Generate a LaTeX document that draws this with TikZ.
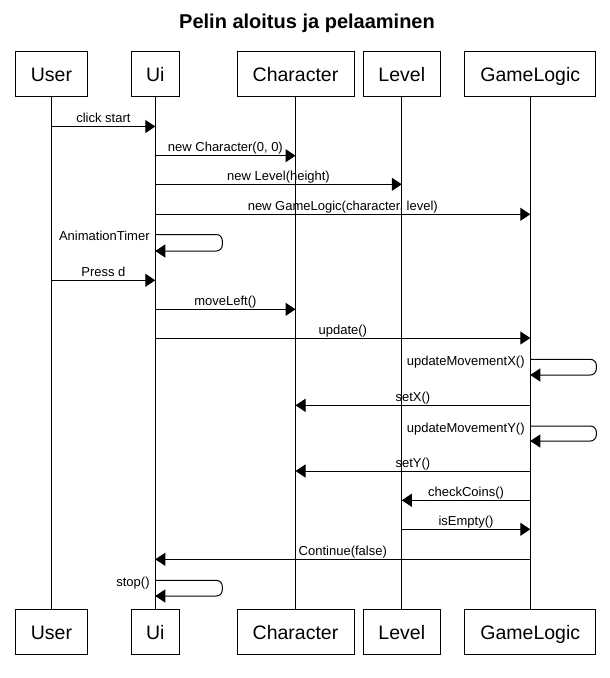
\documentclass[tikz,border=0pt]{standalone}
\usepackage{fontspec}
\setmainfont{Liberation Sans}
\usetikzlibrary{arrows.meta}
\tikzset{
  obj/.style={draw=black, line width=1pt, fill=white, minimum height=45pt, inner sep=0pt, text height=15pt, text depth=0pt, font=\fontsize{19.5}{22}\selectfont},
  life/.style={line width=1pt},
  msgline/.style={line width=1pt, -{Triangle[length=10pt,width=13pt]}},
  msglabel/.style={above, inner sep=1pt, text depth=2.5pt, font=\fontsize{13}{15}\selectfont},
  looplabel/.style={anchor=east, inner sep=1pt, xshift=-4.5pt, yshift=-2.5pt, text height=9.5pt, text depth=2.5pt, font=\fontsize{13}{15}\selectfont},
  titlestyle/.style={anchor=base, inner sep=0pt, font=\bfseries\fontsize{20}{24}\selectfont},
}
\newcommand{\seqmsg}[5]{\draw[msgline] (#1 |- 0,#3) -- node[msglabel] (#5) {#4} (#2 |- 0,#3);}
\newcommand{\seqloop}[7]{%
  \coordinate (#6a) at (#1 |- 0,#2);
  \coordinate (#6b) at (#1 |- 0,#4);
  \node[looplabel] (#6) at (#6a) {#7};
  \draw[msgline, rounded corners=6pt] (#6a) -- ++(#3,0) -- ++(0,#5) -- (#6b);}
\begin{document}
\begin{tikzpicture}[x=1pt, y=-1pt]
\useasboundingbox (0,0) rectangle (610,678);
\node[titlestyle] (title) at (307,28.3) {Pelin aloitus ja pelaaminen};
% top objects
\node[obj, minimum width=72pt]  (userT)  at (51.5,73.5)  {User};
\node[obj, minimum width=48pt]  (uiT)    at (155.3,73.5) {Ui};
\node[obj, minimum width=117pt] (charT)  at (295.5,73.5) {Character};
\node[obj, minimum width=77pt]  (levelT) at (401.8,73.5) {Level};
\node[obj, minimum width=131pt] (glT)    at (530.3,73.5) {GameLogic};
% bottom objects
\node[obj, minimum width=72pt]  (userB)  at (51.5,631.5)  {User};
\node[obj, minimum width=48pt]  (uiB)    at (155.3,631.5) {Ui};
\node[obj, minimum width=117pt] (charB)  at (295.5,631.5) {Character};
\node[obj, minimum width=77pt]  (levelB) at (401.8,631.5) {Level};
\node[obj, minimum width=131pt] (glB)    at (530.3,631.5) {GameLogic};
% lifelines
\draw[life] (userT) -- (userB);
\draw[life] (uiT) -- (uiB);
\draw[life] (charT) -- (charB);
\draw[life] (levelT) -- (levelB);
\draw[life] (glT) -- (glB);
% messages
\seqmsg{userT}{uiT}{126.5}{click start}{m1}
\seqmsg{uiT}{charT}{155.7}{new Character(0, 0)}{m2}
\seqmsg{uiT}{levelT}{184.3}{new Level(height)}{m3}
\seqmsg{uiT}{glT}{214.3}{new GameLogic(character, level)}{m4}
\seqloop{uiT}{234.5}{67}{251}{16.5}{mfive}{AnimationTimer}
\seqmsg{userT}{uiT}{280.3}{Press d}{m6}
\seqmsg{uiT}{charT}{309.3}{moveLeft()}{m7}
\seqmsg{uiT}{glT}{338}{update()}{m8}
\seqloop{glT}{359.3}{66}{375}{15.7}{mnine}{updateMovementX()}
\seqmsg{glT}{charT}{405.3}{setX()}{m10}
\seqloop{glT}{426}{66}{441}{15}{meleven}{updateMovementY()}
\seqmsg{glT}{charT}{471}{setY()}{m12}
\seqmsg{glT}{levelT}{500.3}{checkCoins()}{m13}
\seqmsg{levelT}{glT}{529.3}{isEmpty()}{m14}
\seqmsg{glT}{uiT}{559.3}{Continue(false)}{m15}
\seqloop{uiT}{580.3}{67}{596}{15.7}{msixteen}{stop()}
\end{tikzpicture}
\end{document}
